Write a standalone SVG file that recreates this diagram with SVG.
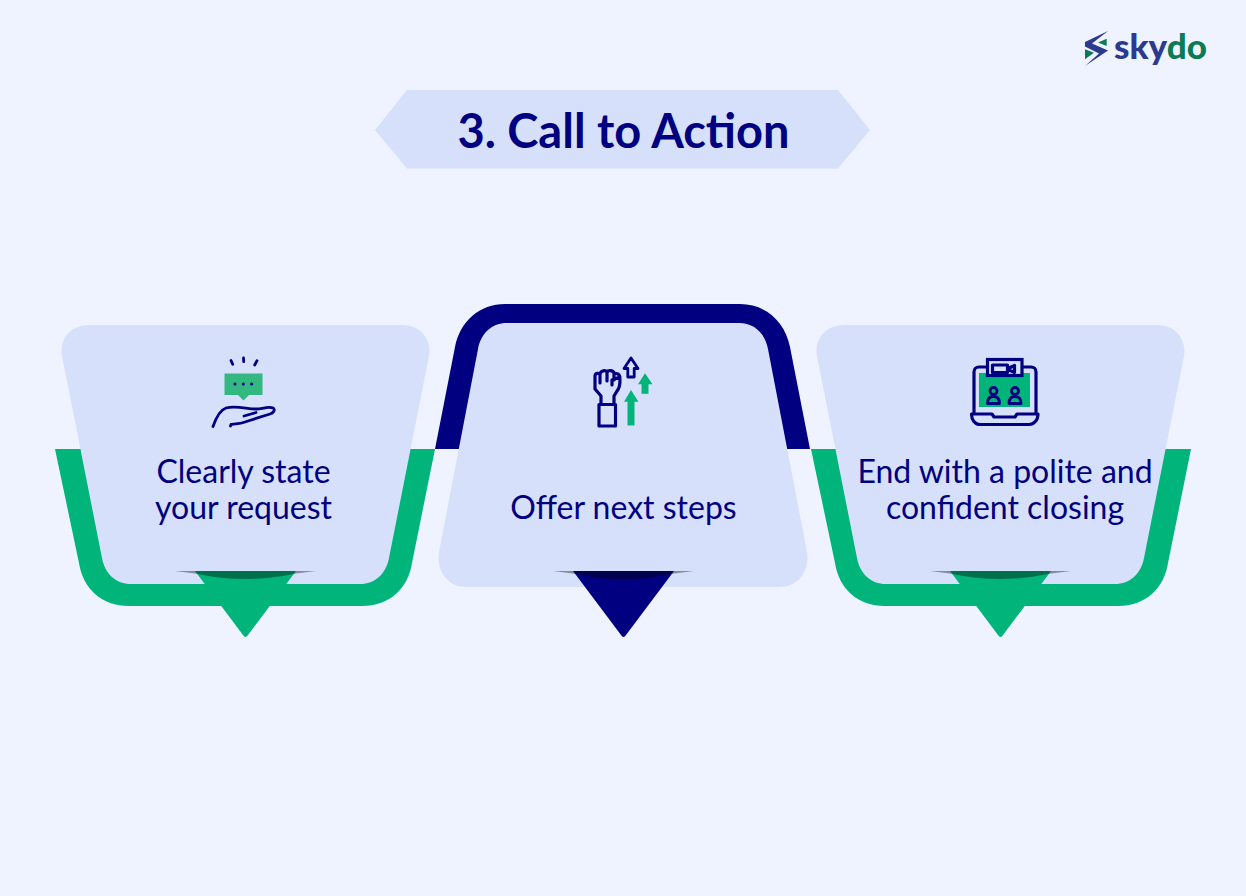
<svg xmlns="http://www.w3.org/2000/svg" width="1246" height="896" viewBox="0 0 1246 896">
<style>
.card{fill:#d6e0fb}
.g{fill:#00b47a}
.n{fill:#000080}
.lbl{font-family:"Lato","Carlito","Liberation Sans",sans-serif;font-size:32px;fill:#000080;text-anchor:middle}
.ln{fill:none;stroke:#000080;stroke-width:3.200;stroke-linecap:round;stroke-linejoin:round}
.thin{stroke-width:2.800}
</style>
<defs>
<path id="c" class="card" d="M89,325H402C420,325 432,339 429,356L389,558C386,574 375,584 360,584H131C116,584 105,574 102,558L62,356C59,339 71,325 89,325Z"/>
<path id="u" class="g" d="M55,449H435L412,563C408,589 389,606 362,606H129C102,606 83,589 79,563Z"/>
<path id="p" class="g" d="M195,571H296L248,635Q245.500,639 243,635Z"/>
<path id="s" fill="#000" fill-opacity=".38" d="M175,571H316L296,573.500Q270,579 245.500,579Q221,579 195,573.500Z"/>
</defs>
<rect width="1246" height="896" fill="#eff3ff"/>
<g id="logo">
<path fill="#2b3a8f" d="M1108,31L1085,42L1085,46.500L1099,53.500L1085,66L1108,50.500L1092,43.500Z"/>
<path fill="#0b7a55" d="M1106.700,38.700L1098,42.500L1106.700,46ZM1085,49.300L1094,52.700L1085,59.300Z"/>
<text x="1114" y="59" font-family="Lato,Carlito,sans-serif" font-size="35" font-weight="900" fill="#2b3a8f">sky<tspan fill="#0b7a55">do</tspan></text>
</g>
<g id="title">
<path class="card" d="M375,130L407,90H838L870,130L838,168.500H407Z"/>
<text x="623.500" y="147.500" font-family="Lato,Carlito,sans-serif" font-size="47" font-weight="700" fill="#000080" text-anchor="middle">3. Call to Action</text>
</g>
<g id="node1">
<use href="#u"/><use href="#c"/><use href="#p"/><use href="#s"/>
<g id="icon1">
<path d="M224.500,373.500H262.500V395H249L243.500,400.500L238,395H224.500Z" fill="#33b882"/>
<g class="n"><circle cx="235" cy="384" r="1.500"/><circle cx="243.300" cy="384" r="1.500"/><circle cx="251.700" cy="384" r="1.500"/></g>
<path class="ln thin" d="M231,360.500L232.700,364.300M243.500,358L243.700,361.700M257,360.700L254.700,365M213,426.500C216,418 220,410 226,408C236,405.500 247,409 257,409C261,409 269,406 273,408C276,410 273,413 270,414L248,421C241,424 234,424 231,424.500L230.500,426M244,416L256,412.500"/>
</g>
<text class="lbl" x="243.500" y="483">Clearly state</text>
<text class="lbl" x="243.500" y="519">your request</text>
</g>
<g id="node2">
<path class="n" d="M435,449L455,347C460,321 480,304 505,304H740C765,304 785,321 790,347L810,449Z"/>
<path class="card" d="M507,323H739C754,323 765,333 768,349L807,552C810,571 798,587 780,587H466C448,587 436,571 439,552L478,349C481,333 492,323 507,323Z"/>
<path class="n" d="M573,571H674L626,635Q623.500,639 621,635Z"/>
<use href="#s" x="378"/>
<g id="icon2">
<path class="ln" d="M599,404.500H615.500V426H599ZM601,404V396L595,389V376C595,373 599,372.500 600,374.500C600,371 605,369.500 607,372C608,370 613,370 614,373L618,374C620,375 620,378 620,380C620,386 619,389 617,391L614,396V404M600,374.500V383M607,372V381M614,373V380M620,377L612,380V385"/>
<path class="ln thin" d="M631,358L638,368.500H634.200V377H627.800V368.500H624Z"/>
<path class="g" d="M645,373.300L652.500,384.300H648.500V393.700H641.500V384.300H638Z"/>
<path class="g" d="M631,390L638.500,401.700H634.500V425.500H627.500V401.700H624Z"/>
</g>
<text class="lbl" x="623.500" y="519">Offer next steps</text>
</g>
<g id="node3">
<use href="#u" x="756"/><use href="#c" x="755"/><use href="#p" x="755"/><use href="#s" x="755"/>
<g id="icon3">
<rect x="979" y="373" width="51" height="34" fill="#00b47a"/>
<path class="ln" d="M974,413V372C974,369 976,367 979,367H1031C1034,367 1036,369 1036,372V413M971.500,414H992L994,417H1015L1017,414H1038C1038,420 1034,424.500 1029,424.500H980C975,424.500 971.500,420 971.500,414Z"/>
<rect class="card" x="987.500" y="359.500" width="34.500" height="16" style="stroke:#000080;stroke-width:3.200"/>
<path class="ln" d="M992.500,365H1007.500V372.500H992.500ZM1008,368.500L1014.500,365.500V372.500L1008,369.500"/>
<path class="ln thin" d="M987.500,403.500C987.500,398 990,396.500 993.500,396.500C997,396.500 999.500,398 999.500,403.500ZM1009,403.500C1009,398 1011.500,396.500 1015,396.500C1018.500,396.500 1021,398 1021,403.500Z"/>
<circle class="ln thin" cx="993.500" cy="391" r="3.500"/><circle class="ln thin" cx="1015" cy="391" r="3.500"/>
</g>
<text class="lbl" x="1005" y="483">End with a polite and</text>
<text class="lbl" x="1005" y="519">confident closing</text>
</g>
</svg>
